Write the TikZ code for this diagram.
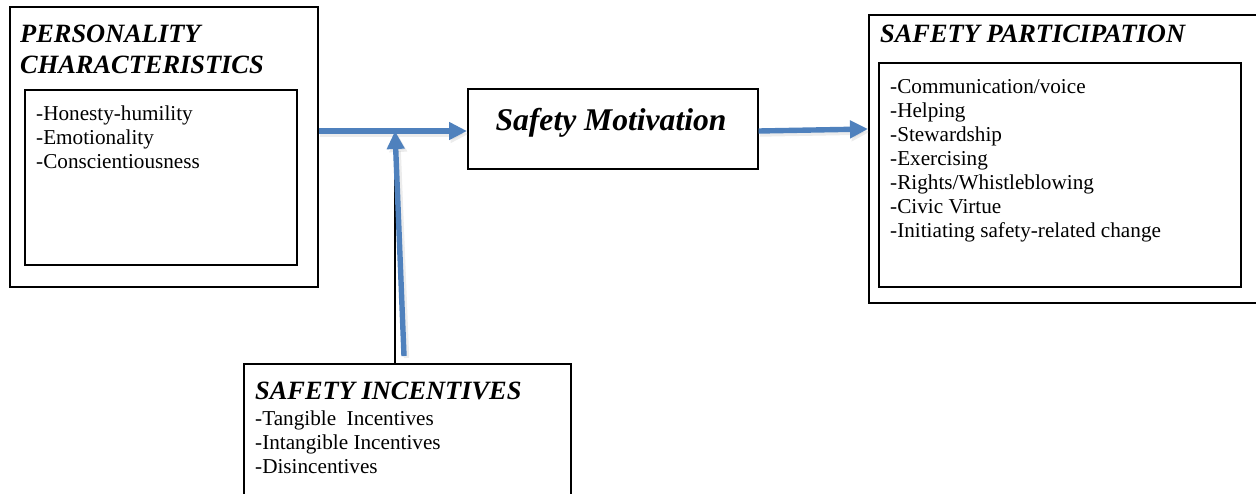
\documentclass[tikz,border=0pt]{standalone}
\usepackage{fontspec}
\setmainfont{Liberation Serif}
\usetikzlibrary{arrows.meta}
\definecolor{arrowblue}{RGB}{79,129,189}
\begin{document}
\begin{tikzpicture}[x=1pt,y=-1pt,
  boxline/.style={draw=black,line width=1.6pt,fill=none,inner sep=0pt,anchor=north west},
  ttl/.style={anchor=base west,inner sep=0pt,font=\fontsize{26.4}{30}\selectfont\bfseries\itshape},
  itm/.style={anchor=base west,inner sep=0pt,font=\fontsize{21.2}{24}\selectfont},
  flow/.style={draw=arrowblue,line width=5.4pt,-{Triangle[length=18pt,width=17pt]}},
  shade/.style={draw=black!30,opacity=0.25,line width=5.4pt,-{Triangle[length=18pt,width=17pt]}},
  thin/.style={draw=black,line width=1.3pt}]
\useasboundingbox (0,0) rectangle (1256,493);
% boxes
\node[boxline,minimum width=308pt,minimum height=280pt] (pc) at (9,6) {};
\node[boxline,minimum width=272pt,minimum height=175pt] (pci) at (24,89) {};
\node[boxline,minimum width=290pt,minimum height=80pt] (sm) at (467,88) {};
\node[boxline,minimum width=400pt,minimum height=288pt] (sp) at (868,14) {};
\node[boxline,minimum width=362pt,minimum height=224pt] (spi) at (878,62) {};
\node[boxline,minimum width=327pt,minimum height=140pt] (inc) at (243,363) {};
% titles
\node[ttl] (pct1) at (20,42) {PERSONALITY};
\node[ttl] (pct2) at (20,73) {CHARACTERISTICS};
\node[ttl] (spt) at (880,42) {SAFETY PARTICIPATION};
\node[ttl] (inct) at (255,399) {SAFETY INCENTIVES};
\node[anchor=base,inner sep=0pt,font=\fontsize{31.6}{36}\selectfont\bfseries\itshape] (smt) at (611,130) {Safety Motivation};
% lists
\foreach \t [count=\i] in {-Honesty-humility,-Emotionality,-Conscientiousness}
  \node[itm] (pcl\i) at (36,{96+24*\i}) {\t};
\foreach \t [count=\i] in {-Communication/voice,-Helping,-Stewardship,-Exercising,-Rights/Whistleblowing,-Civic Virtue,-Initiating safety-related change}
  \node[itm] (spl\i) at (890,{69+24*\i}) {\t};
\foreach \t [count=\i] in {-Tangible\ \ Incentives,-Intangible Incentives,-Disincentives}
  \node[itm] (incl\i) at (255,{401+24*\i}) {\t};
% connectors
\coordinate (j) at (395,131);
\coordinate (vb) at (404,356);
\coordinate (spin) at (868,129);
\draw[thin] (inc.north -| j) -- (j);
\draw[shade] ([shift={(1.5,3)}]pc.east |- j) -- ([shift={(1.5,3)}]sm.west |- j);
\draw[shade] ([shift={(2.5,2)}]vb) -- ([shift={(2.5,3)}]j);
\draw[shade] ([shift={(1.5,3)}]sm.east |- j) -- ([shift={(1.5,3)}]spin);
\draw[flow] (pc.east |- j) -- (sm.west |- j);
\draw[flow] (vb) -- (j);
\draw[flow] (sm.east |- j) -- (spin);
\end{tikzpicture}
\end{document}
